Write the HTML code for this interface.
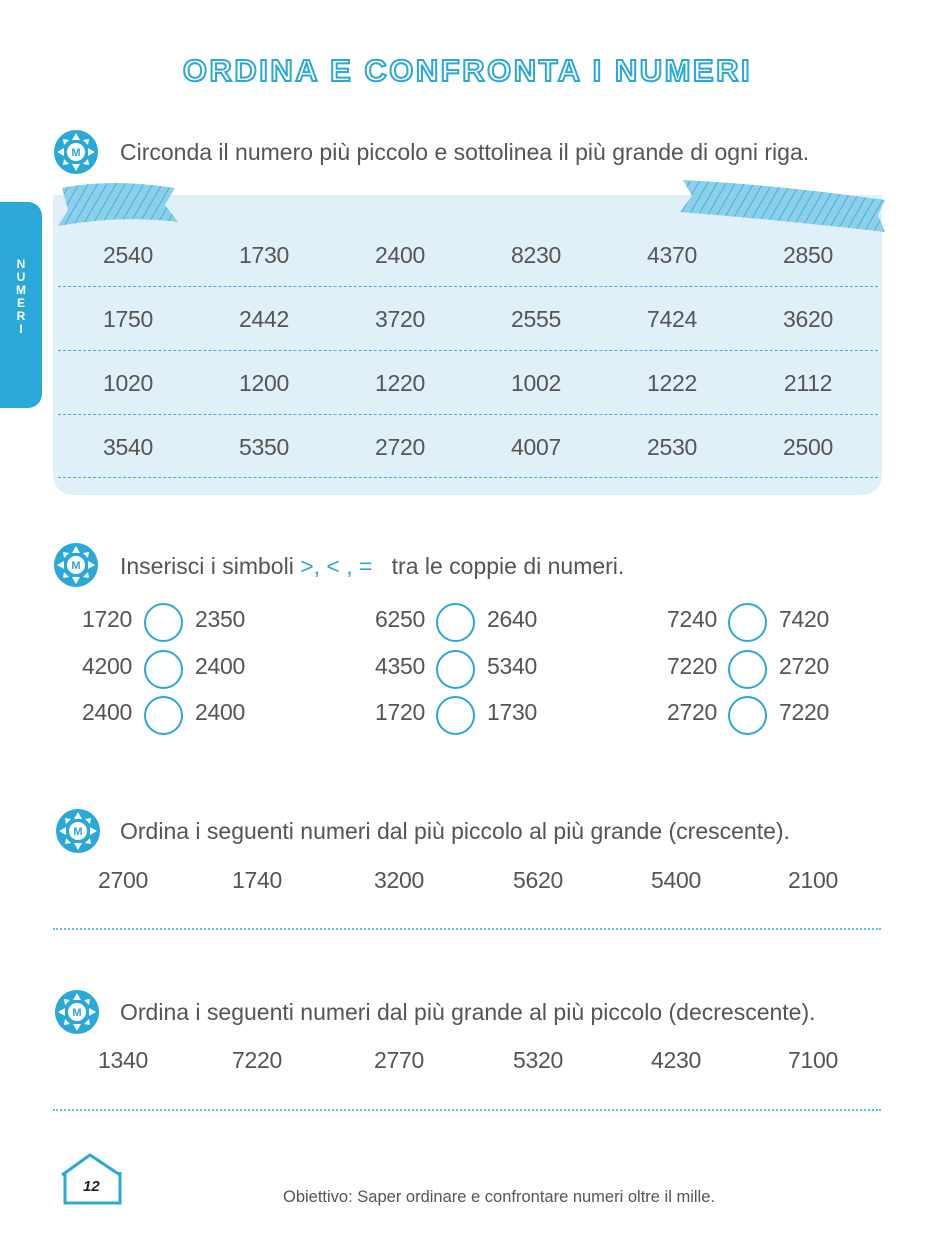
<!DOCTYPE html>
<html><head><meta charset="utf-8"><style>
body{margin:0;width:935px;height:1233px;background:#fff;position:relative;overflow:hidden;font-family:"Liberation Sans",sans-serif;color:#444}
.a{position:absolute;white-space:nowrap}
.n{position:absolute;font-size:23px;color:#555;transform:translateX(-50%);letter-spacing:-0.3px;font-weight:300}
.t{position:absolute;font-size:23px;color:#555;white-space:nowrap}
.dl{position:absolute;left:58px;width:820px;border-top:1.5px dashed #3ab0dc}
.dot{position:absolute;left:53px;width:828px;border-top:2px dotted #5fc0e4}
.c{position:absolute;width:35px;height:35px;border:2px solid #2aa8d8;border-radius:50%}
</style></head><body>
<div class="a" style="left:0;right:0;top:53px;text-align:center;font-size:31px;font-weight:bold;letter-spacing:2.5px;color:#fff;-webkit-text-stroke:2px #2aa8d8">ORDINA E CONFRONTA I NUMERI</div>

<div class="a" style="left:0;top:202px;width:42px;height:206px;background:#2aa8d8;border-radius:0 14px 14px 0"></div>
<div class="a" style="left:14px;top:258px;width:14px;color:#fff;font-weight:bold;font-size:12px;line-height:13px;text-align:center;white-space:normal">N U M E R I</div>

<svg class="a" style="left:0;top:0" width="935" height="1233">
<defs><pattern id="p" width="8" height="8" patternUnits="userSpaceOnUse" patternTransform="rotate(30)"><rect width="8" height="8" fill="#8ccfeb"/><line x1="0" y1="0" x2="0" y2="8" stroke="#2aa8d8" stroke-width="1.5"/></pattern>
<g id="ic"><circle r="22" fill="#2aa8d8"/><circle r="9" fill="#fff"/><g fill="#fff"><path d="M0,-19 L4,-12 L-4,-12Z"/><path d="M0,19 L4,12 L-4,12Z"/><path d="M-19,0 L-12,4 L-12,-4Z"/><path d="M19,0 L12,4 L12,-4Z"/><path d="M-13,-13 L-7,-12 L-12,-7Z"/><path d="M13,-13 L7,-12 L12,-7Z"/><path d="M-13,13 L-7,12 L-12,7Z"/><path d="M13,13 L7,12 L12,7Z"/></g><text x="0" y="4" text-anchor="middle" font-size="11" font-weight="bold" fill="#2aa8d8" font-family="Liberation Sans">M</text></g></defs>
<path d="M53,195 H882 V472 Q882,495 859,495 H76 Q53,495 53,472Z" fill="#dff0f8"/>
<path d="M62,188 Q110,178 175,188 L165,205 L178,222 Q120,215 58,226 L68,210Z" fill="url(#p)"/>
<path d="M683,180 Q780,185 885,200 L878,215 L885,232 Q780,220 680,212 L692,196Z" fill="url(#p)"/>
<use href="#ic" x="76" y="152"/><use href="#ic" x="76" y="565"/><use href="#ic" x="78" y="831"/><use href="#ic" x="77" y="1012"/>
<path d="M62,1175 L90,1155 L120,1175 M65,1172 V1203 H120 V1172" fill="none" stroke="#2aa8d8" stroke-width="3"/>
</svg>
<div class="a" style="left:83px;top:1178px;font-size:15px;font-weight:bold;font-style:italic;color:#222">12</div>

<div class="t" style="left:120px;top:139px">Circonda il numero più piccolo e sottolinea il più grande di ogni riga.</div>

<div class="dl" style="top:286px"></div><div class="dl" style="top:350px"></div><div class="dl" style="top:414px"></div><div class="dl" style="top:477px"></div>

<div class="n" style="left:128px;top:242px">2540</div><div class="n" style="left:264px;top:242px">1730</div><div class="n" style="left:400px;top:242px">2400</div><div class="n" style="left:536px;top:242px">8230</div><div class="n" style="left:672px;top:242px">4370</div><div class="n" style="left:808px;top:242px">2850</div>
<div class="n" style="left:128px;top:306px">1750</div><div class="n" style="left:264px;top:306px">2442</div><div class="n" style="left:400px;top:306px">3720</div><div class="n" style="left:536px;top:306px">2555</div><div class="n" style="left:672px;top:306px">7424</div><div class="n" style="left:808px;top:306px">3620</div>
<div class="n" style="left:128px;top:370px">1020</div><div class="n" style="left:264px;top:370px">1200</div><div class="n" style="left:400px;top:370px">1220</div><div class="n" style="left:536px;top:370px">1002</div><div class="n" style="left:672px;top:370px">1222</div><div class="n" style="left:808px;top:370px">2112</div>
<div class="n" style="left:128px;top:434px">3540</div><div class="n" style="left:264px;top:434px">5350</div><div class="n" style="left:400px;top:434px">2720</div><div class="n" style="left:536px;top:434px">4007</div><div class="n" style="left:672px;top:434px">2530</div><div class="n" style="left:808px;top:434px">2500</div>

<div class="t" style="left:120px;top:553px">Inserisci i simboli <span style="color:#2aa8d8">&gt;, &lt; , =</span> &nbsp; tra le coppie di numeri.</div>

<div class="n" style="left:107px;top:606px">1720</div><div class="c" style="left:144px;top:603px"></div><div class="n" style="left:220px;top:606px">2350</div>
<div class="n" style="left:107px;top:653px">4200</div><div class="c" style="left:144px;top:650px"></div><div class="n" style="left:220px;top:653px">2400</div>
<div class="n" style="left:107px;top:699px">2400</div><div class="c" style="left:144px;top:696px"></div><div class="n" style="left:220px;top:699px">2400</div>
<div class="n" style="left:400px;top:606px">6250</div><div class="c" style="left:436px;top:603px"></div><div class="n" style="left:512px;top:606px">2640</div>
<div class="n" style="left:400px;top:653px">4350</div><div class="c" style="left:436px;top:650px"></div><div class="n" style="left:512px;top:653px">5340</div>
<div class="n" style="left:400px;top:699px">1720</div><div class="c" style="left:436px;top:696px"></div><div class="n" style="left:512px;top:699px">1730</div>
<div class="n" style="left:692px;top:606px">7240</div><div class="c" style="left:728px;top:603px"></div><div class="n" style="left:804px;top:606px">7420</div>
<div class="n" style="left:692px;top:653px">7220</div><div class="c" style="left:728px;top:650px"></div><div class="n" style="left:804px;top:653px">2720</div>
<div class="n" style="left:692px;top:699px">2720</div><div class="c" style="left:728px;top:696px"></div><div class="n" style="left:804px;top:699px">7220</div>

<div class="t" style="left:120px;top:818px">Ordina i seguenti numeri dal più piccolo al più grande (crescente).</div>
<div class="n" style="left:123px;top:867px">2700</div><div class="n" style="left:257px;top:867px">1740</div><div class="n" style="left:399px;top:867px">3200</div><div class="n" style="left:538px;top:867px">5620</div><div class="n" style="left:676px;top:867px">5400</div><div class="n" style="left:813px;top:867px">2100</div>
<div class="dot" style="top:928px"></div>

<div class="t" style="left:120px;top:999px">Ordina i seguenti numeri dal più grande al più piccolo (decrescente).</div>
<div class="n" style="left:123px;top:1047px">1340</div><div class="n" style="left:257px;top:1047px">7220</div><div class="n" style="left:399px;top:1047px">2770</div><div class="n" style="left:538px;top:1047px">5320</div><div class="n" style="left:676px;top:1047px">4230</div><div class="n" style="left:813px;top:1047px">7100</div>
<div class="dot" style="top:1109px"></div>

<div class="a" style="left:283px;top:1188px;font-size:16.5px;color:#555">Obiettivo: Saper ordinare e confrontare numeri oltre il mille.</div>
</body></html>
